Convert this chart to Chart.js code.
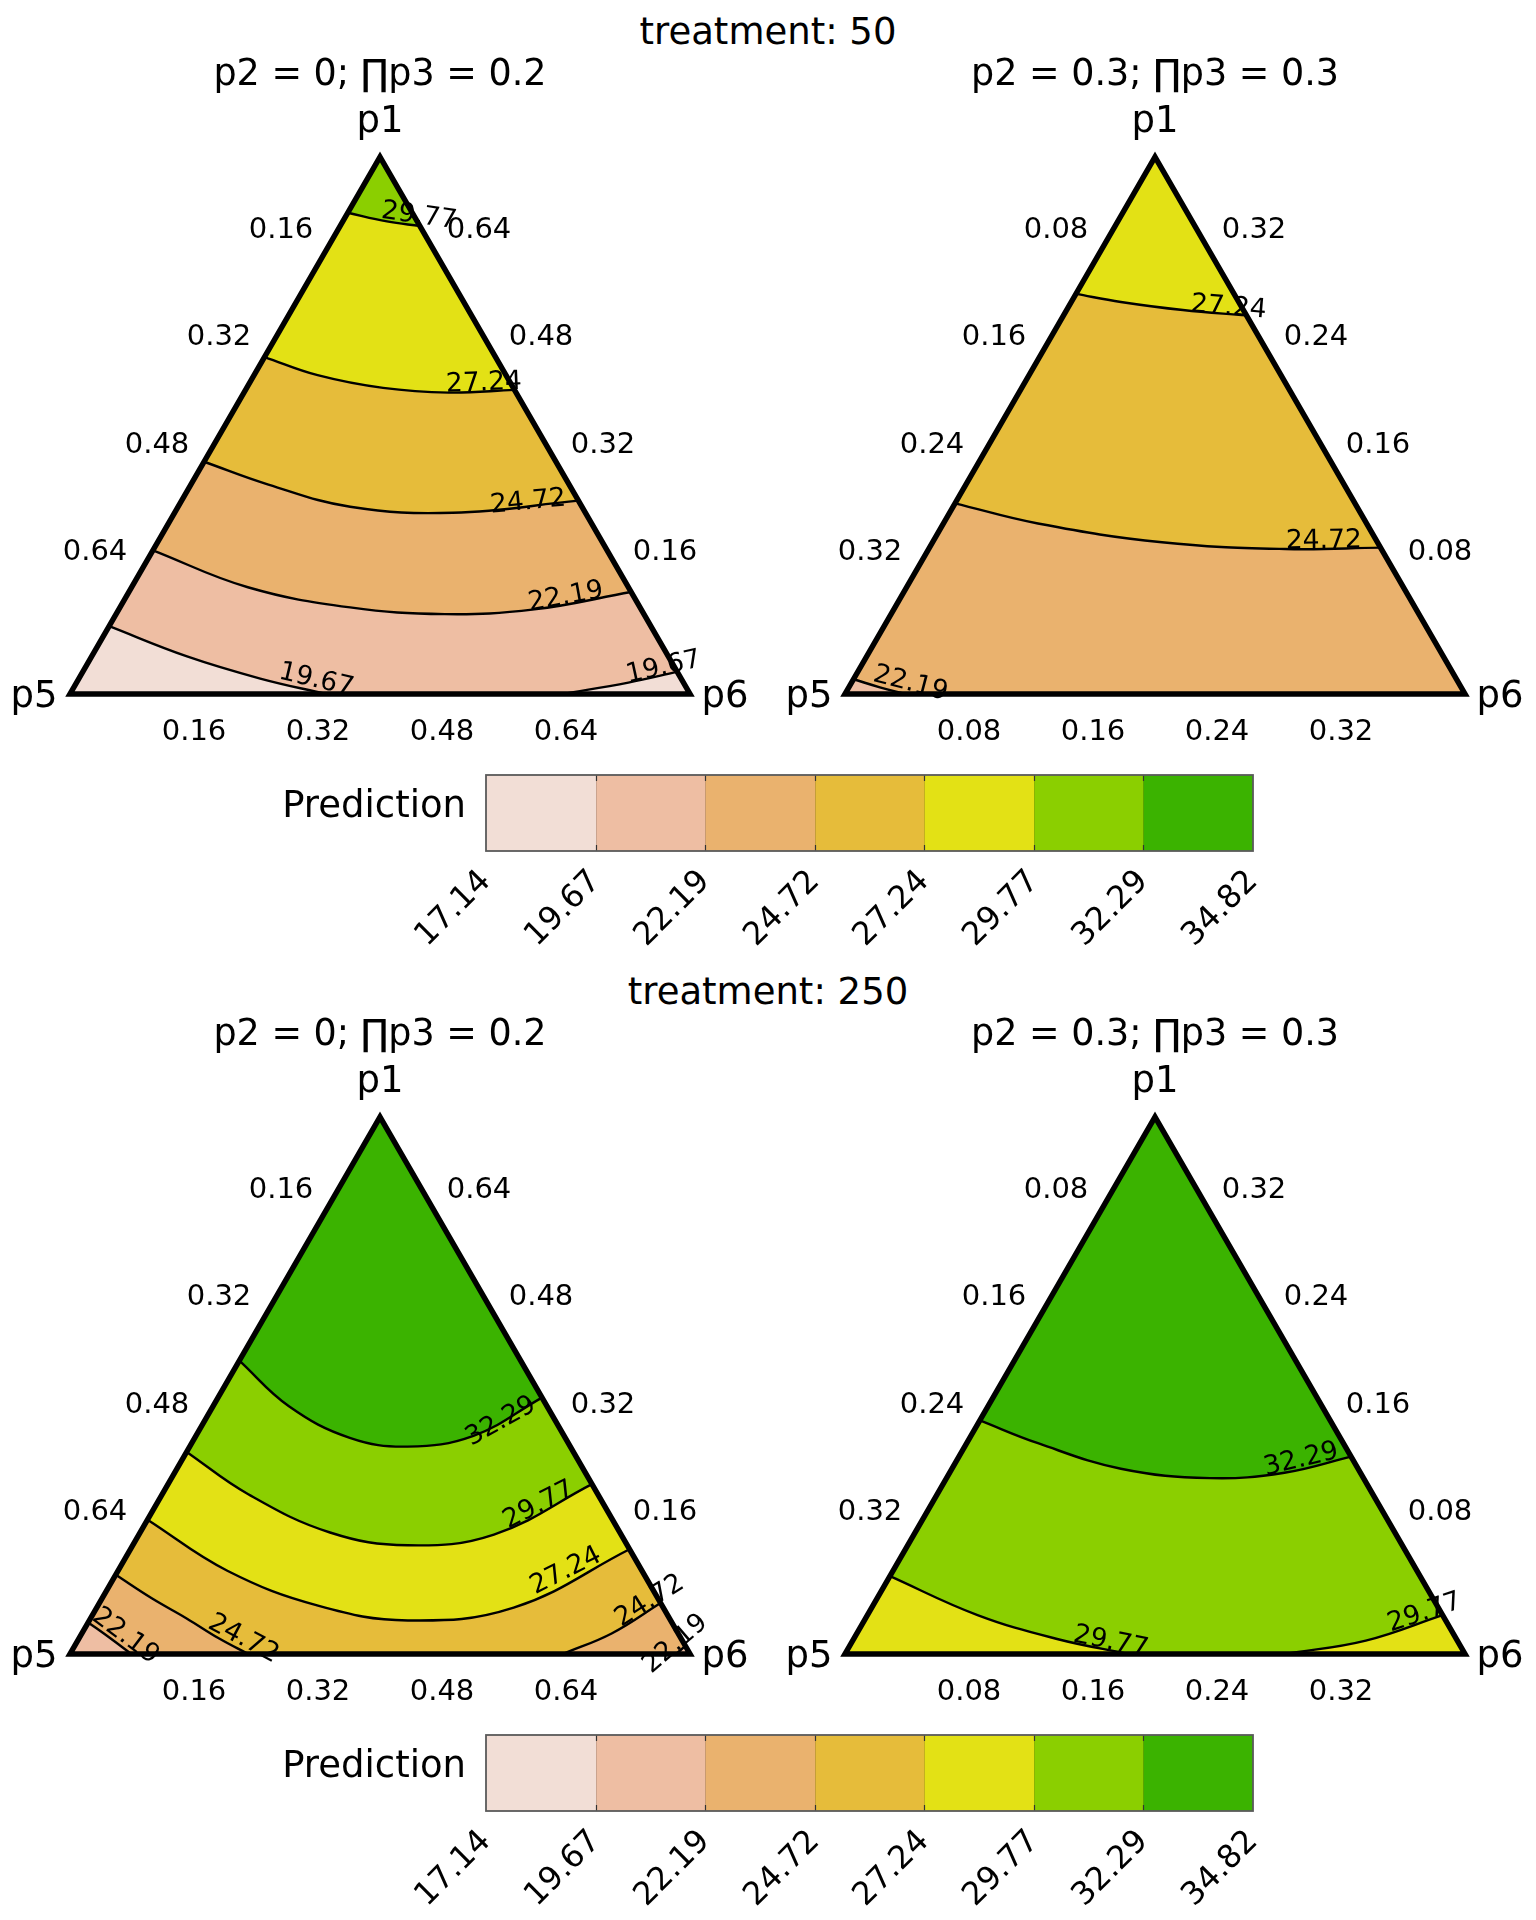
<!DOCTYPE html>
<html>
<head>
<meta charset="utf-8">
<script src="https://cdn.jsdelivr.net/npm/chart.js@4.4.1/dist/chart.umd.min.js"></script>
<style>
  html, body { margin: 0; padding: 0; background: #ffffff; }
  #wrap { position: relative; width: 1536px; height: 1920px; background: #ffffff; font-family: "DejaVu Sans", sans-serif; overflow: hidden; }
  #wrap canvas { position: absolute; }
  .title { position: absolute; left: 0; width: 1536px; text-align: center; font-size: 37px; line-height: 36px; color: #000; white-space: pre; }
</style>
</head>
<body>
<div id="wrap"></div>
<script>
// ---------------- data ----------------
const levelBreaks = [17.14, 19.67, 22.19, 24.72, 27.24, 29.77, 32.29, 34.82];
const levelColors = ['#F2DED6', '#EEBEA3', '#EAB26E', '#E6BC3A', '#E3E115', '#8BCF00', '#3BB300'];
const treatmentValues = [50, 250];
const fixedP2 = [0, 0.3];
const fixedP3 = [0.2, 0.3];
const tickValuesLeft = [0.16, 0.32, 0.48, 0.64];   // p1 + p5 + p6 = 0.8
const tickValuesRight = [0.08, 0.16, 0.24, 0.32];  // p1 + p5 + p6 = 0.4

// contour lines, points as [p1, p6]  (p5 = remainder)
// treatment 50, p2 = 0, p3 = 0.2
const t50a_19_67a = [[0.101, 0], [0.056, 0.123], [0.023, 0.234], [0, 0.330]];
const t50a_19_67b = [[0, 0.636], [0.017, 0.712], [0.033, 0.767]];
const t50a_22_19 = [[0.214, 0], [0.159, 0.150], [0.129, 0.297], [0.119, 0.424], [0.126, 0.536], [0.152, 0.648]];
const t50a_24_72 = [[0.346, 0], [0.312, 0.100], [0.279, 0.222], [0.270, 0.359], [0.288, 0.512]];
const t50a_27_24 = [[0.502, 0], [0.475, 0.082], [0.456, 0.176], [0.449, 0.264], [0.453, 0.347]];
const t50a_29_77 = [[0.717, 0], [0.704, 0.057], [0.697, 0.103]];
const t50a_labels = [[0.009, 0.311], [0.028, 0.754], [0.133, 0.575], [0.274, 0.455], [0.451, 0.309], [0.700, 0.099]];

// treatment 50, p2 = 0.3, p3 = 0.3
const t50b_22_19 = [[0.011, 0], [0.005, 0.020], [0, 0.039]];
const t50b_24_72 = [[0.142, 0], [0.127, 0.061], [0.113, 0.148], [0.108, 0.230], [0.109, 0.291]];
const t50b_27_24 = [[0.298, 0], [0.292, 0.032], [0.286, 0.075], [0.282, 0.118]];
const t50b_labels = [[0.002, 0.040], [0.108, 0.255], [0.282, 0.106]];

// treatment 250, p2 = 0, p3 = 0.2
const t250a_22_19a = [[0.047, 0], [0.023, 0.041], [0, 0.079]];
const t250a_22_19b = [[0, 0.782], [0.012, 0.788]];
const t250a_24_72a = [[0.118, 0], [0.083, 0.064], [0.053, 0.124], [0.023, 0.181], [0, 0.230]];
const t250a_24_72b = [[0, 0.636], [0.031, 0.684], [0.076, 0.724]];
const t250a_27_24 = [[0.200, 0], [0.124, 0.141], [0.072, 0.284], [0.050, 0.411], [0.069, 0.538], [0.156, 0.644]];
const t250a_29_77 = [[0.301, 0], [0.238, 0.111], [0.181, 0.245], [0.162, 0.355], [0.178, 0.458], [0.253, 0.547]];
const t250a_32_29 = [[0.437, 0], [0.369, 0.098], [0.322, 0.200], [0.309, 0.281], [0.325, 0.358], [0.382, 0.418]];
const t250a_labels = [[0.017, 0.057], [0.006, 0.785], [0.012, 0.213], [0.069, 0.719], [0.113, 0.588], [0.211, 0.504], [0.336, 0.393]];

// treatment 250, p2 = 0.3, p3 = 0.3
const t250b_29_77a = [[0.058, 0], [0.029, 0.071], [0.011, 0.132], [0, 0.183]];
const t250b_29_77b = [[0, 0.284], [0.010, 0.331], [0.029, 0.371]];
const t250b_32_29 = [[0.174, 0], [0.157, 0.046], [0.138, 0.109], [0.131, 0.170], [0.135, 0.216], [0.147, 0.253]];
const t250b_labels = [[0.003, 0.169], [0.025, 0.363], [0.139, 0.226]];

// panel tables built from the arrays above
const panels = [
  { half: 0, col: 0, total: 0.8, tickValues: tickValuesLeft, baseBin: 1, anchors: t50a_labels,
    contours: [
      { level: '19.67', pts: t50a_19_67a }, { level: '19.67', pts: t50a_19_67b },
      { level: '22.19', pts: t50a_22_19 }, { level: '24.72', pts: t50a_24_72 },
      { level: '27.24', pts: t50a_27_24 }, { level: '29.77', pts: t50a_29_77 }],
    regions: [{ bin: 0, path: [0, 'V5'] }, { bin: 0, path: [1, 'V6'] }, { bin: 2, path: [2, 'V1'] },
              { bin: 3, path: [3, 'V1'] }, { bin: 4, path: [4, 'V1'] }, { bin: 5, path: [5, 'V1'] }] },
  { half: 0, col: 1, total: 0.4, tickValues: tickValuesRight, baseBin: 2, anchors: t50b_labels,
    contours: [
      { level: '22.19', pts: t50b_22_19 }, { level: '24.72', pts: t50b_24_72 }, { level: '27.24', pts: t50b_27_24 }],
    regions: [{ bin: 1, path: [0, 'V5'] }, { bin: 3, path: [1, 'V1'] }, { bin: 4, path: [2, 'V1'] }] },
  { half: 1, col: 0, total: 0.8, tickValues: tickValuesLeft, baseBin: 2, anchors: t250a_labels,
    contours: [
      { level: '22.19', pts: t250a_22_19a }, { level: '22.19', pts: t250a_22_19b },
      { level: '24.72', pts: t250a_24_72a }, { level: '24.72', pts: t250a_24_72b },
      { level: '27.24', pts: t250a_27_24 }, { level: '29.77', pts: t250a_29_77 }, { level: '32.29', pts: t250a_32_29 }],
    regions: [{ bin: 1, path: [0, 'V5'] }, { bin: 1, path: [1, 'V6'] }, { bin: 3, path: [2, 3, 'V1'] },
              { bin: 4, path: [4, 'V1'] }, { bin: 5, path: [5, 'V1'] }, { bin: 6, path: [6, 'V1'] }] },
  { half: 1, col: 1, total: 0.4, tickValues: tickValuesRight, baseBin: 4, anchors: t250b_labels,
    contours: [
      { level: '29.77', pts: t250b_29_77a }, { level: '29.77', pts: t250b_29_77b }, { level: '32.29', pts: t250b_32_29 }],
    regions: [{ bin: 5, path: [0, 1, 'V1'] }, { bin: 6, path: [2, 'V1'] }] }
];

// ---------------- drawing ----------------
Chart.defaults.font.family = '"DejaVu Sans", sans-serif';
const H = Math.sqrt(3) / 2;
const wrap = document.getElementById('wrap');

function panelTextPlugin(spec) {
  return {
    id: 'panelText',
    afterDraw(chart) {
      const ctx = chart.ctx, xs = chart.scales.x, ys = chart.scales.y, T = spec.total;
      const px = p => [xs.getPixelForValue(p[1] / T + p[0] / T / 2), ys.getPixelForValue(p[0] / T * H)];
      ctx.save();
      ctx.fillStyle = '#000';
      ctx.textAlign = 'center';
      ctx.textBaseline = 'alphabetic';
      // contour labels
      ctx.font = '26.5px "DejaVu Sans"';
      spec.contours.forEach((c, i) => {
        const a = px(spec.anchors[i]);
        const pp = c.pts.map(px);
        let best = 1e9, ang = 0;
        for (let k = 0; k < pp.length - 1; k++) {
          const [x1, y1] = pp[k], [x2, y2] = pp[k + 1];
          const dx = x2 - x1, dy = y2 - y1, L = dx * dx + dy * dy;
          let t = ((a[0] - x1) * dx + (a[1] - y1) * dy) / L;
          t = Math.max(0, Math.min(1, t));
          const d = Math.hypot(x1 + t * dx - a[0], y1 + t * dy - a[1]);
          if (d < best) { best = d; ang = Math.atan2(dy, dx); }
        }
        if (ang > Math.PI / 2) ang -= Math.PI;
        if (ang < -Math.PI / 2) ang += Math.PI;
        ctx.save();
        ctx.translate(a[0], a[1]);
        ctx.rotate(ang);
        ctx.fillText(c.level, 0, -1);
        ctx.restore();
      });
      // tick labels
      ctx.font = '29px "DejaVu Sans"';
      const dy = 0.3645 * 29;
      spec.tickValues.forEach(v => {
        const s = v.toFixed(2);
        const b = px([0, v]);          // p6 axis (base)
        ctx.fillText(s, b[0], b[1] + 35 + dy);
        const l = px([T - v, 0]);      // p5 axis (left edge)
        ctx.fillText(s, l[0] - 37, l[1] - 37 + dy);
        const r = px([v, T - v]);      // p1 axis (right edge)
        ctx.fillText(s, r[0] + 37, r[1] - 37 + dy);
      });
      // vertex labels
      const ap = px([T, 0]), bl = px([0, 0]), br = px([0, T]);
      ctx.font = '37px "DejaVu Sans"';
      ctx.fillText('p1', ap[0], ap[1] - 25);
      ctx.fillText('p5', bl[0] - 36, bl[1] + 13);
      ctx.fillText('p6', br[0] + 35, br[1] + 13);
      // subtitle
      ctx.font = '36.5px "DejaVu Sans"';
      ctx.fillText('p2 = ' + fixedP2[spec.col] + '; \u220Fp3 = ' + fixedP3[spec.col], ap[0], 85);
      ctx.restore();
    }
  };
}

function makePanel(spec) {
  const cv = document.createElement('canvas');
  cv.width = 768; cv.height = 760;
  cv.style.left = (spec.col * 768) + 'px';
  cv.style.top = (spec.half * 960) + 'px';
  wrap.appendChild(cv);
  const T = spec.total;
  const xy = p => ({ x: p[1] / T + p[0] / T / 2, y: p[0] / T * H });
  const V = { V1: xy([T, 0]), V5: xy([0, 0]), V6: xy([0, T]) };
  const datasets = [];
  datasets.push({ data: [V.V5, V.V1, V.V6], fill: 'shape', backgroundColor: levelColors[spec.baseBin],
    borderWidth: 0, borderColor: 'rgba(0,0,0,0)', tension: 0, order: 100, pointRadius: 0 });
  spec.regions.forEach((r, i) => {
    const pts = [];
    r.path.forEach(item => {
      if (typeof item === 'number') {
        const c = spec.contours[item].pts.map(xy);
        pts.push({ ...c[0] });
        c.forEach(q => pts.push({ ...q }));
        pts.push({ ...c[c.length - 1] });
      } else {
        pts.push({ ...V[item] }, { ...V[item] });
      }
    });
    datasets.push({ data: pts, fill: 'shape', backgroundColor: levelColors[r.bin], borderWidth: 0,
      borderColor: 'rgba(0,0,0,0)', tension: 0.4, order: 90 - i, pointRadius: 0 });
  });
  spec.contours.forEach(c => datasets.push({ data: c.pts.map(xy), fill: false, borderColor: '#000',
    borderWidth: 2.4, tension: 0.4, order: 5, pointRadius: 0, clip: false }));
  datasets.push({ data: [V.V5, V.V1, V.V6, V.V5, V.V1], fill: false, borderColor: '#000', borderWidth: 5.5,
    borderJoinStyle: 'miter', tension: 0, order: 0, pointRadius: 0, clip: false });

  new Chart(cv, {
    type: 'line',
    data: { datasets },
    options: {
      responsive: false, animation: false, devicePixelRatio: 1, events: [],
      layout: { padding: { left: spec.col ? 77 : 70, right: spec.col ? 71 : 78, top: 157, bottom: 66 } },
      scales: {
        x: { type: 'linear', min: 0, max: 1, display: false },
        y: { type: 'linear', min: 0, max: H, display: false }
      },
      elements: { point: { radius: 0 } },
      plugins: { legend: { display: false }, tooltip: { enabled: false } }
    },
    plugins: [panelTextPlugin(spec)]
  });
}

const legendFrame = {
  id: 'legendFrame',
  afterDatasetsDraw(chart) {
    const ctx = chart.ctx, a = chart.chartArea, xs = chart.scales.x;
    ctx.save();
    levelBreaks.slice(1, -1).forEach(v => {
      const x = Math.round(xs.getPixelForValue(v)) + 0.5;
      ctx.strokeStyle = 'rgba(0,0,0,0.15)'; ctx.lineWidth = 1;
      ctx.beginPath(); ctx.moveTo(x, a.top); ctx.lineTo(x, a.bottom); ctx.stroke();
      ctx.strokeStyle = '#333'; ctx.lineWidth = 1.2;
      ctx.beginPath(); ctx.moveTo(x, a.top); ctx.lineTo(x, a.top + 6);
      ctx.moveTo(x, a.bottom - 6); ctx.lineTo(x, a.bottom); ctx.stroke();
    });
    ctx.strokeStyle = '#5a5a5a'; ctx.lineWidth = 1.8;
    ctx.strokeRect(a.left, a.top, a.right - a.left, a.bottom - a.top);
    ctx.restore();
  }
};

function zeroPad(s) { s.paddingTop = 0; s.paddingBottom = 0; s.paddingLeft = 0; s.paddingRight = 0; }

function makeLegend(half) {
  const cv = document.createElement('canvas');
  cv.width = 1300; cv.height = 200;
  cv.style.left = '0px';
  cv.style.top = (760 + half * 960) + 'px';
  wrap.appendChild(cv);
  new Chart(cv, {
    type: 'bar',
    data: {
      labels: ['Prediction'],
      datasets: levelColors.map((c, i) => ({
        data: [[levelBreaks[i], levelBreaks[i + 1]]], backgroundColor: c, borderWidth: 0,
        grouped: false, barPercentage: 1, categoryPercentage: 1
      }))
    },
    options: {
      indexAxis: 'y', responsive: false, animation: false, devicePixelRatio: 1, events: [],
      layout: { padding: { top: 15, right: 47, bottom: 0, left: 0 } },
      scales: {
        x: {
          type: 'linear', min: levelBreaks[0], max: levelBreaks[levelBreaks.length - 1],
          afterBuildTicks: s => { s.ticks = levelBreaks.map(v => ({ value: v })); },
          afterFit: s => { s.height = 109; zeroPad(s); },
          grid: { display: false, drawTicks: false }, border: { display: false },
          ticks: { autoSkip: false, minRotation: 45, maxRotation: 45, padding: 12, color: '#000',
            font: { size: 32 }, callback: v => Number(v).toFixed(2) }
        },
        y: {
          afterFit: s => { s.width = 486; zeroPad(s); },
          grid: { display: false, drawTicks: false }, border: { display: false },
          ticks: { color: '#000', font: { size: 37 }, padding: 20, labelOffset: -6 }
        }
      },
      plugins: { legend: { display: false }, tooltip: { enabled: false } }
    },
    plugins: [legendFrame]
  });
}

treatmentValues.forEach((t, h) => {
  const d = document.createElement('div');
  d.className = 'title';
  d.style.top = (14 + h * 960) + 'px';
  d.textContent = 'treatment: ' + t;
  wrap.appendChild(d);
  makeLegend(h);
});
panels.forEach(makePanel);
</script>
</body>
</html>
